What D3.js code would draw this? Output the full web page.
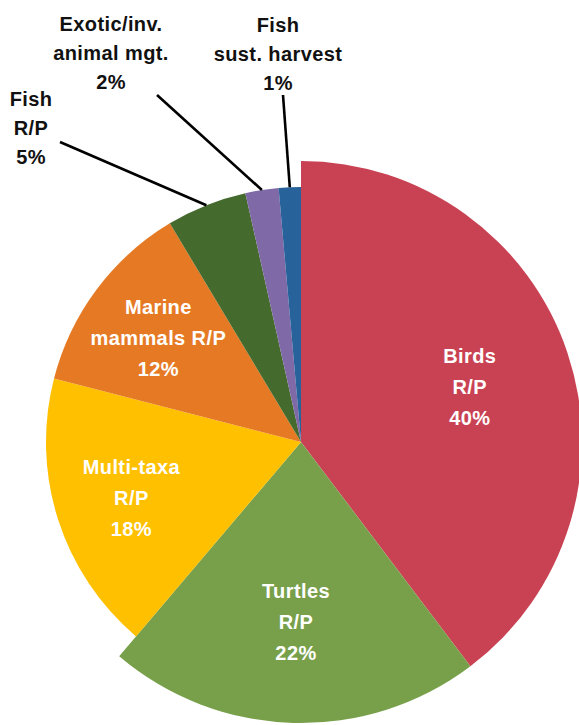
<!DOCTYPE html>
<html>
<head>
<meta charset="utf-8">
<script src="https://cdn.jsdelivr.net/npm/d3@7"></script>
<style>
  html, body { margin: 0; padding: 0; background: #fff; }
  svg { display: block; }
  .slice-label { font-family: "Liberation Sans", Arial, sans-serif; font-weight: bold; font-size: 20px; letter-spacing: 0.4px; }
</style>
</head>
<body>
<svg id="chart"></svg>
<script>
// data (share of projects, %)
const categories = ['Birds\nR/P', 'Turtles\nR/P', 'Multi-taxa\nR/P', 'Marine\nmammals R/P', 'Fish\nR/P', 'Exotic/inv.\nanimal mgt.', 'Fish\nsust. harvest'];
const shares = [39.7, 21.5, 17.8, 12.4, 5.1, 2.1, 1.4];
const colours = ['#c94253', '#78a04a', '#ffc000', '#e67a24', '#456a2d', '#7f69a6', '#28629b'];
// slices drawn with the larger radius
const enlarged = ['Birds\nR/P', 'Turtles\nR/P'];
// slices labelled outside with a leader line
const outside = ['Fish\nR/P', 'Exotic/inv.\nanimal mgt.', 'Fish\nsust. harvest'];

const width = 579, height = 725;
const cx = 301, cy = 442;
const radius = 255, bigRadius = 281;
const labelRadius = 178;

const svg = d3.select('#chart')
  .attr('width', width)
  .attr('height', height)
  .attr('viewBox', `0 0 ${width} ${height}`);

const data = categories.map((c, i) => ({ name: c, value: shares[i], colour: colours[i] }));

const pieLayout = d3.pie()
  .sort(null)
  .value(d => d.value);

const arcs = pieLayout(data);

const arc = d3.arc()
  .innerRadius(0)
  .outerRadius(d => enlarged.includes(d.data.name) ? bigRadius : radius);

const labelArc = d3.arc()
  .innerRadius(labelRadius)
  .outerRadius(labelRadius);

// point on the rim, where the leader lines start
const rimArc = d3.arc()
  .innerRadius(radius)
  .outerRadius(radius);

const g = svg.append('g')
  .attr('transform', `translate(${cx},${cy})`);

// slices
g.selectAll('path.slice')
  .data(arcs)
  .enter().append('path')
  .attr('class', 'slice')
  .attr('d', arc)
  .attr('fill', d => d.data.colour);

const pct = d => Math.round(d.data.value) + '%';

// inside labels, three lines centred on the label arc
const inner = arcs.filter(d => !outside.includes(d.data.name));
const innerLine = 31;
inner.forEach(d => {
  const [x, y] = labelArc.centroid(d);
  const lines = d.data.name.split('\n').concat(pct(d));
  const t = g.append('text')
    .attr('class', 'slice-label')
    .attr('fill', '#fff')
    .attr('text-anchor', 'middle');
  lines.forEach((s, i) => {
    t.append('tspan')
      .attr('x', x)
      .attr('y', y + (i - (lines.length - 1) / 2) * innerLine + 9)
      .text(s);
  });
});

// outside labels: leader end and text block, relative to pie centre
const outsideLayout = {
  'Fish\nR/P': { end: [-241, -300], text: [-270, -336] },
  'Exotic/inv.\nanimal mgt.': { end: [-144, -347], text: [-190, -411] },
  'Fish\nsust. harvest': { end: [-18, -347], text: [-23, -410] }
};
const outerLine = 29;
arcs.filter(d => outside.includes(d.data.name)).forEach(d => {
  const lay = outsideLayout[d.data.name];
  const [sx, sy] = rimArc.centroid(d);
  g.append('line')
    .attr('x1', sx).attr('y1', sy)
    .attr('x2', lay.end[0]).attr('y2', lay.end[1])
    .attr('stroke', '#000')
    .attr('stroke-width', 2.6);
  const lines = d.data.name.split('\n').concat(pct(d));
  const t = g.append('text')
    .attr('class', 'slice-label')
    .attr('fill', '#111')
    .attr('text-anchor', 'middle');
  lines.forEach((s, i) => {
    t.append('tspan')
      .attr('x', lay.text[0])
      .attr('y', lay.text[1] + i * outerLine)
      .text(s);
  });
});
</script>
</body>
</html>
